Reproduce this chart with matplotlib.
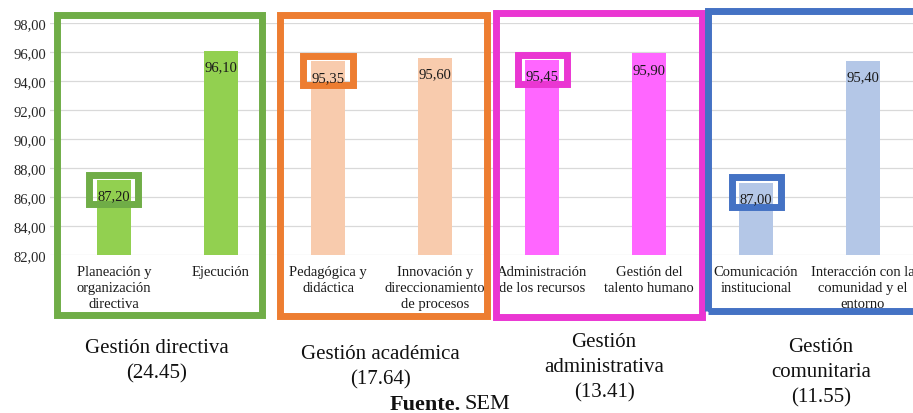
import matplotlib.pyplot as plt
from matplotlib.patches import Rectangle

# datos por subproceso
categorias = ['Planeación y\norganización\ndirectiva', 'Ejecución',
              'Pedagógica y\ndidáctica', 'Innovación y\ndireccionamiento\nde procesos',
              'Administración\nde los recursos', 'Gestión del\ntalento humano',
              'Comunicación\ninstitucional', 'Interacción con la\ncomunidad y el\nentorno']
valores = [87.20, 96.10, 95.35, 95.60, 95.45, 95.90, 87.00, 95.40]
grupo = [0, 0, 1, 1, 2, 2, 3, 3]

gestiones = ['Gestión directiva\n(24.45)', 'Gestión académica\n(17.64)',
             'Gestión\nadministrativa\n(13.41)', 'Gestión\ncomunitaria\n(11.55)']
resaltados = [0, 2, 4, 6]

color_barra = ['#92D050', '#F8CBAD', '#FF66FF', '#B4C7E7']
color_marco = ['#70AD47', '#ED7D31', '#EA36D2', '#4472C4']

plt.rcParams['font.family'] = ['Liberation Serif', 'DejaVu Serif']

W, H = 913, 414
fig = plt.figure(figsize=(W / 100, H / 100), dpi=100)

def fx(px):
    return px / W

def fy(py):
    return 1 - py / H

ax = fig.add_axes([fx(50), fy(256), fx(913) - fx(50), fy(24) - fy(256)])

x = list(range(len(valores)))
ax.bar(x, [v - 82 for v in valores], bottom=82, width=0.32,
       color=[color_barra[g] for g in grupo], zorder=2)

for i, v in enumerate(valores):
    ax.annotate(f'{v:.2f}'.replace('.', ','), (i, v), xytext=(0, -11.5),
                textcoords='offset points', ha='center', va='center',
                fontsize=10.5, color='#1a1a1a', zorder=4)

# marcos pequeños sobre la etiqueta del primer subproceso de cada gestión
for i in resaltados:
    v = valores[i]
    ax.add_patch(Rectangle((i - 0.229, v - 1.66), 0.458, 2.01, fill=False,
                           edgecolor=color_marco[grupo[i]], lw=5,
                           zorder=3, clip_on=False))

ax.set_ylim(82, 98)
ax.set_xlim(-0.598, 7.467)
yt = list(range(82, 99, 2))
ax.set_yticks(yt)
ax.set_yticklabels([f'{t:.2f}'.replace('.', ',') for t in yt], fontsize=10.5, color='#262626')
ax.set_xticks(x)
ax.set_xticklabels(categorias, fontsize=10.5, color='#1a1a1a', linespacing=1.3)
ax.tick_params(length=0, pad=3)
ax.tick_params(axis='x', pad=7)
for t in yt:
    ax.axhline(t, color='#D9D9D9', lw=0.9, zorder=1)
for s in ax.spines.values():
    s.set_visible(False)

# marcos grandes de cada gestión
marcos = [(57, 15.5, 261.5, 316), (279.5, 16, 486.5, 316.5),
          (496, 13.5, 701.5, 318), (707.5, 11.5, 918, 311.5)]
for k, (x0, y0, x1, y1) in enumerate(marcos):
    fig.add_artist(Rectangle((fx(x0), fy(y1)), fx(x1) - fx(x0), fy(y0) - fy(y1),
                             transform=fig.transFigure, fill=False,
                             edgecolor=color_marco[k], lw=5, zorder=5))

pos_titulos = [(157, 361), (380, 367), (604, 368), (821, 373)]
for texto, (px, py) in zip(gestiones, pos_titulos):
    fig.text(fx(px), fy(py), texto, ha='center', va='center',
             fontsize=15, linespacing=1.45, color='#111111')

fig.text(fx(461), fy(405), 'Fuente.', ha='right', va='center',
         fontsize=16, fontweight='bold', color='#111111')
fig.text(fx(465), fy(405), 'SEM', ha='left', va='center',
         fontsize=16, color='#111111')

fig.savefig('out.png', dpi=100)
